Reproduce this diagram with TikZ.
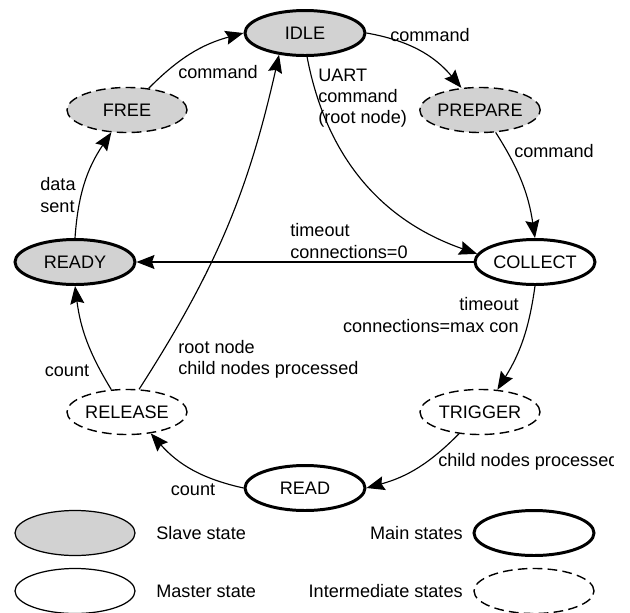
\documentclass[tikz,border=0pt]{standalone}
\usepackage{fontspec}
\setmainfont{Liberation Sans}
\usetikzlibrary{shapes,arrows.meta,positioning}

\tikzset{
  fsm/.style={ellipse, draw, minimum width=2.4cm, minimum height=0.9cm, inner sep=0pt, line width=0.7pt},
  slave/.style={fsm, fill=gray!35},
  master/.style={fsm, fill=white},
  mainst/.style={line width=1.7pt},
  interst/.style={line width=0.8pt, dash pattern=on 5.5pt off 3pt},
  trans/.style={line width=0.65pt, -{Stealth[length=3.6mm,width=2.8mm,inset=0.5mm]}},
  lbl/.style={inner sep=0pt, align=left},
}

\begin{document}
\begin{tikzpicture}[font=\fontsize{10.3}{12}\selectfont]
\useasboundingbox (0,0) rectangle (12.6,-12.26);

% States
\node[slave, mainst]   (idle)    at (6.1,-0.66)  {IDLE};
\node[slave, interst]  (free)    at (2.54,-2.2)  {FREE};
\node[slave, interst]  (prepare) at (9.6,-2.2)   {PREPARE};
\node[slave, mainst]   (ready)   at (1.5,-5.24)  {READY};
\node[master, mainst]  (collect) at (10.7,-5.24) {COLLECT};
\node[master, interst] (release) at (2.54,-8.24) {RELEASE};
\node[master, interst] (trigger) at (9.6,-8.24)  {TRIGGER};
\node[master, mainst]  (read)    at (6.1,-9.76)  {READ};

% Transitions
\draw[trans] (free.45) to[bend left=15] (idle.west);
\draw[trans] (idle.east) to[bend left=20] (prepare.130);
\draw[trans] (prepare.-55) to[bend left=12] (collect.north);
\draw[trans] (idle.-85) to[bend right=30] (collect.172);
\draw[trans] (collect.west) -- (ready.east);
\draw[trans] (ready.north) to[bend left=15] (free.-125);
\draw[trans] (collect.south) to[bend left=12] (trigger.52);
\draw[trans] (trigger.-134) to[bend left=15] (read.east);
\draw[trans] (read.west) to[bend left=18] (release.-42);
\draw[trans] (release.125) to[bend left=12] (ready.south);
\draw[trans] (release.62) to[bend right=10] (idle.-140);

% Labels
\node[lbl] (cmdfree)    at (4.36,-1.44) {command};
\node[lbl] (cmdidle)    at (8.6,-0.7)   {command};
\node[lbl, anchor=west] (uart) at (6.36,-1.96) {UART\\command\\(root node)};
\node[lbl] (cmdprep)    at (11.08,-3.02) {command};
\node[lbl, anchor=west] (tozero) at (5.8,-4.82) {timeout\\connections=0};
\node[lbl, anchor=west] (datasent) at (0.8,-3.9) {data\\sent};
\node[lbl, anchor=east, align=right] (tomax) at (10.38,-6.3) {timeout\\connections=max con};
\begin{scope}
  \clip (8.6,-8.9) rectangle (12.28,-9.6);
  \node[lbl, anchor=west] (childproc) at (8.76,-9.24) {child nodes processed};
\end{scope}
\node[lbl] (cntread)    at (3.86,-9.8)  {count};
\node[lbl] (cntrel)     at (1.34,-7.42) {count};
\node[lbl, anchor=west] (rootchild) at (3.56,-7.18) {root node\\child nodes processed};

% Legend
\node[slave]          (lgslave) at (1.5,-10.66)  {};
\node[master]         (lgmaster) at (1.5,-11.82) {};
\node[master, mainst] (lgmain)  at (10.68,-10.66) {};
\node[master, interst] (lginter) at (10.68,-11.82) {};
\node[lbl, anchor=west] (txslave)  at (3.12,-10.66) {Slave state};
\node[lbl, anchor=west] (txmaster) at (3.12,-11.82) {Master state};
\node[lbl, anchor=east] (txmain)   at (9.26,-10.66) {Main states};
\node[lbl, anchor=east] (txinter)  at (9.26,-11.82) {Intermediate states};

\end{tikzpicture}
\end{document}
